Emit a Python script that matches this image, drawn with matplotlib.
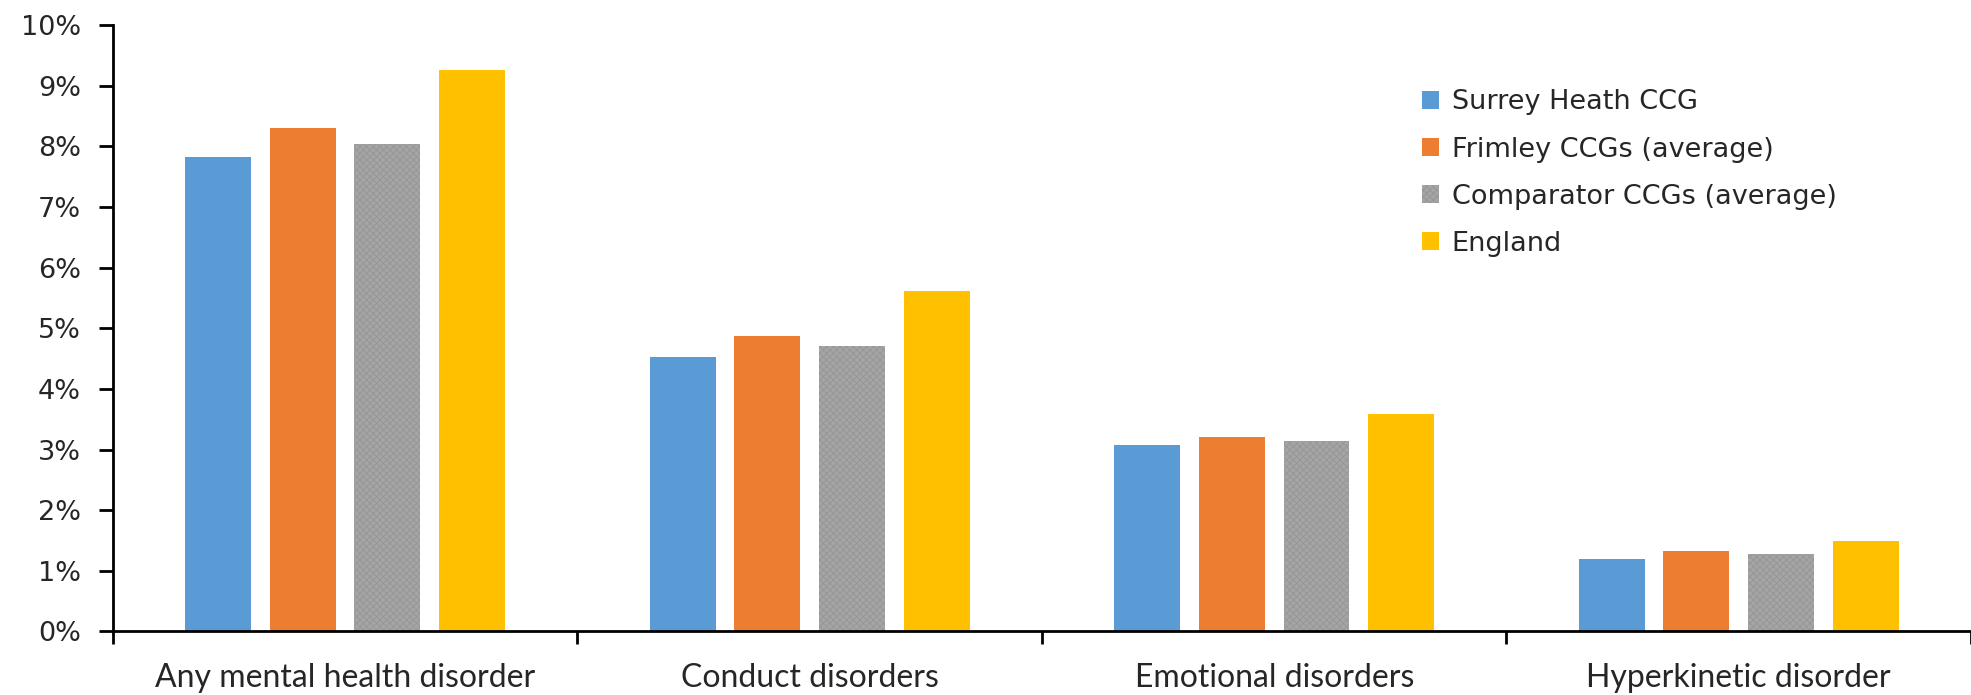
import matplotlib.pyplot as plt
import numpy as np
from matplotlib.ticker import FixedLocator, PercentFormatter

categories = ["Any mental health disorder", "Conduct disorders",
              "Emotional disorders", "Hyperkinetic disorder"]
series_names = ["Surrey Heath CCG", "Frimley CCGs (average)",
                "Comparator CCGs (average)", "England"]
surrey_heath = [7.82, 4.52, 3.07, 1.20]
frimley = [8.30, 4.88, 3.20, 1.32]
comparator = [8.03, 4.70, 3.14, 1.27]
england = [9.26, 5.61, 3.59, 1.50]

colors = ["#5b9bd5", "#ed7d31", "#a5a5a5", "#ffc000"]
values = [surrey_heath, frimley, comparator, england]

fig = plt.figure(figsize=(19.71, 6.95), dpi=100)
ax = fig.add_axes([0.0573, 0.0914, 0.9427, 0.8726])

x = np.arange(len(categories))
step = 0.182
width = 0.142
plt.rcParams['hatch.linewidth'] = 0.6
for i, (name, vals) in enumerate(zip(series_names, values)):
    offset = (i - 1.5) * step
    if name.startswith("Comparator"):
        ax.bar(x + offset, vals, width, color=colors[i], label=name,
               hatch="xxxxx", edgecolor="#959595", linewidth=0)
    else:
        ax.bar(x + offset, vals, width, color=colors[i], label=name,
               linewidth=0)

ax.set_xlim(-0.5, len(categories) - 0.5)
ax.set_ylim(0, 10)
ax.yaxis.set_major_locator(FixedLocator(range(0, 11)))
ax.yaxis.set_major_formatter(PercentFormatter(decimals=0))

# category separators as ticks, labels centred between them
ax.xaxis.set_major_locator(FixedLocator(np.arange(-0.5, len(categories), 1.0)))
ax.xaxis.set_major_formatter(plt.NullFormatter())
ax.set_xticks(x, minor=True)
ax.set_xticklabels(categories, minor=True)
for lbl in ax.get_xticklabels(minor=True):
    lbl.set_family(["Lato", "DejaVu Sans"])
    lbl.set_fontsize(23)
    lbl.set_color("#262626")
ax.tick_params(axis="x", which="minor", length=0, pad=23)
ax.tick_params(axis="x", which="major", length=9, width=2, direction="out")
ax.tick_params(axis="y", length=10, width=2, labelsize=19.5,
               labelcolor="#262626", pad=13)

for side in ("top", "right"):
    ax.spines[side].set_visible(False)
for side in ("left", "bottom"):
    ax.spines[side].set_linewidth(2)
    ax.spines[side].set_color("black")

leg = ax.legend(loc="upper left", bbox_to_anchor=(0.6916, 0.934), frameon=False,
                fontsize=19.5, handlelength=0.63, handleheight=0.63,
                handletextpad=0.45, labelspacing=0.78)
for t in leg.get_texts():
    t.set_color("#262626")

fig.savefig("out.png", dpi=100)
